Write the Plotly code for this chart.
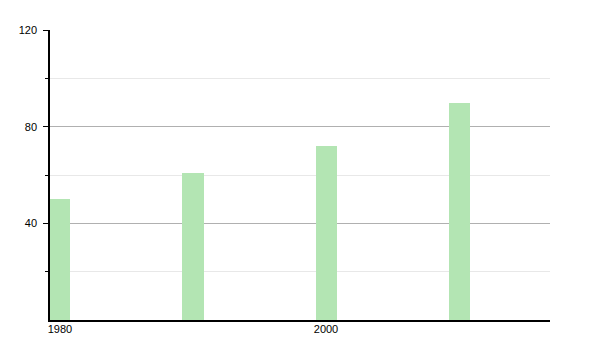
import plotly.graph_objects as go

years = [1980, 1990, 2000, 2010]
values = [50, 61, 72, 90]
x_tick_vals = [1980, 2000]
x_tick_text = ["1980", "2000"]
y_tick_vals = [40, 80, 120]
y_minor_vals = [20, 60, 100]

fig = go.Figure()
fig.add_trace(go.Bar(
    x=years, y=values, width=1.58,
    marker=dict(color="#b3e5b3", line=dict(width=0)),
))

tick_font = dict(family="Liberation Sans, Arial, sans-serif", size=11, color="#000000")

fig.update_layout(
    width=600, height=350,
    margin=dict(l=50, r=50, t=30, b=30),
    paper_bgcolor="white", plot_bgcolor="white",
    showlegend=False,
    font=tick_font,
    bargap=0,
)
fig.update_xaxes(
    range=[1979.25, 2016.84],
    tickmode="array", tickvals=x_tick_vals, ticktext=x_tick_text,
    tickfont=tick_font,
    ticks="", showgrid=False, zeroline=False,
    showline=True, linecolor="#000", linewidth=1.5,
    ticklabelstandoff=-2,
)
fig.update_yaxes(
    range=[0, 120],
    tickmode="array", tickvals=y_tick_vals,
    tickfont=tick_font,
    ticks="outside", ticklen=5, tickcolor="#000", tickwidth=1,
    showgrid=True, gridcolor="#b0b0b0", gridwidth=1,
    zeroline=False,
    showline=True, linecolor="#000", linewidth=1.5,
    ticklabelstandoff=4,
    minor=dict(tickmode="array", tickvals=y_minor_vals, ticks="outside",
               ticklen=3, tickcolor="#000", showgrid=True, gridcolor="#e8e8e8"),
)

fig.write_html("out.html")
